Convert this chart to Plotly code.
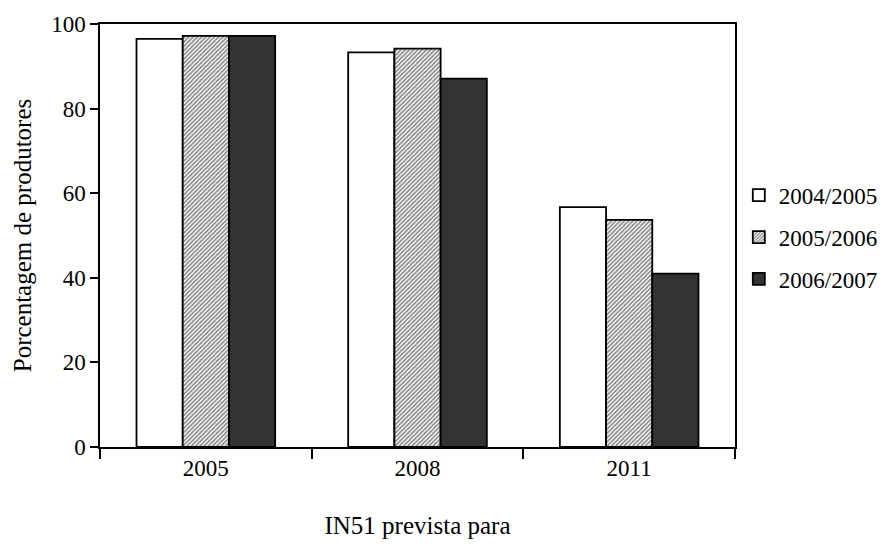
import plotly.graph_objects as go

categories = ["2005", "2008", "2011"]
series_names = ["2004/2005", "2005/2006", "2006/2007"]
v_2004_2005 = [96.5, 93.3, 56.7]
v_2005_2006 = [97.2, 94.2, 53.7]
v_2006_2007 = [97.2, 87.1, 41.0]
y_ticks = [0, 20, 40, 60, 80, 100]

FONT = "Liberation Serif"

fig = go.Figure()
fig.add_trace(go.Bar(
    x=categories, y=v_2004_2005, name=series_names[0],
    marker=dict(color="white", line=dict(color="black", width=1.8)),
    legendgroup="a",
))
fig.add_trace(go.Bar(
    x=categories, y=v_2005_2006, name=series_names[1],
    marker=dict(color="white", line=dict(color="black", width=1.8),
                pattern=dict(shape="/", fgcolor="#111111", bgcolor="white",
                             size=3, solidity=0.55)),
    legendgroup="b",
))
fig.add_trace(go.Bar(
    x=categories, y=v_2006_2007, name=series_names[2],
    marker=dict(color="#333333", line=dict(color="black", width=1.8)),
    legendgroup="c",
))

fig.update_layout(
    width=885, height=551,
    margin=dict(l=92, r=158, t=16, b=112, autoexpand=False),
    paper_bgcolor="white", plot_bgcolor="white",
    barmode="group", bargap=0.345, bargroupgap=0,
    font=dict(family=FONT, size=23, color="black"),
    legend=dict(x=1.006, xanchor="left", y=0.496, yanchor="middle",
                font=dict(family=FONT, size=23, color="black"),
                tracegroupgap=9, itemwidth=30,
                bgcolor="rgba(0,0,0,0)"),
    showlegend=True,
)
fig.update_xaxes(
    automargin=False,
    showline=True, linecolor="black", linewidth=1.5, mirror=True,
    ticks="outside", ticklen=10, tickcolor="black", tickwidth=1.5,
    tickson="boundaries", showgrid=False,
    tickfont=dict(family=FONT, size=23),
    title=dict(text="IN51 prevista para", font=dict(family=FONT, size=25), standoff=36),
)
fig.update_yaxes(
    automargin=False,
    range=[0, 100], tickvals=y_ticks,
    showline=True, linecolor="black", linewidth=1.5, mirror=True,
    ticks="outside", ticklen=8, tickcolor="black", tickwidth=1.5,
    showgrid=False, zeroline=False,
    tickfont=dict(family=FONT, size=23),
    title=dict(text="Porcentagem de produtores", font=dict(family=FONT, size=25), standoff=12),
)

fig.write_html("out.html")
